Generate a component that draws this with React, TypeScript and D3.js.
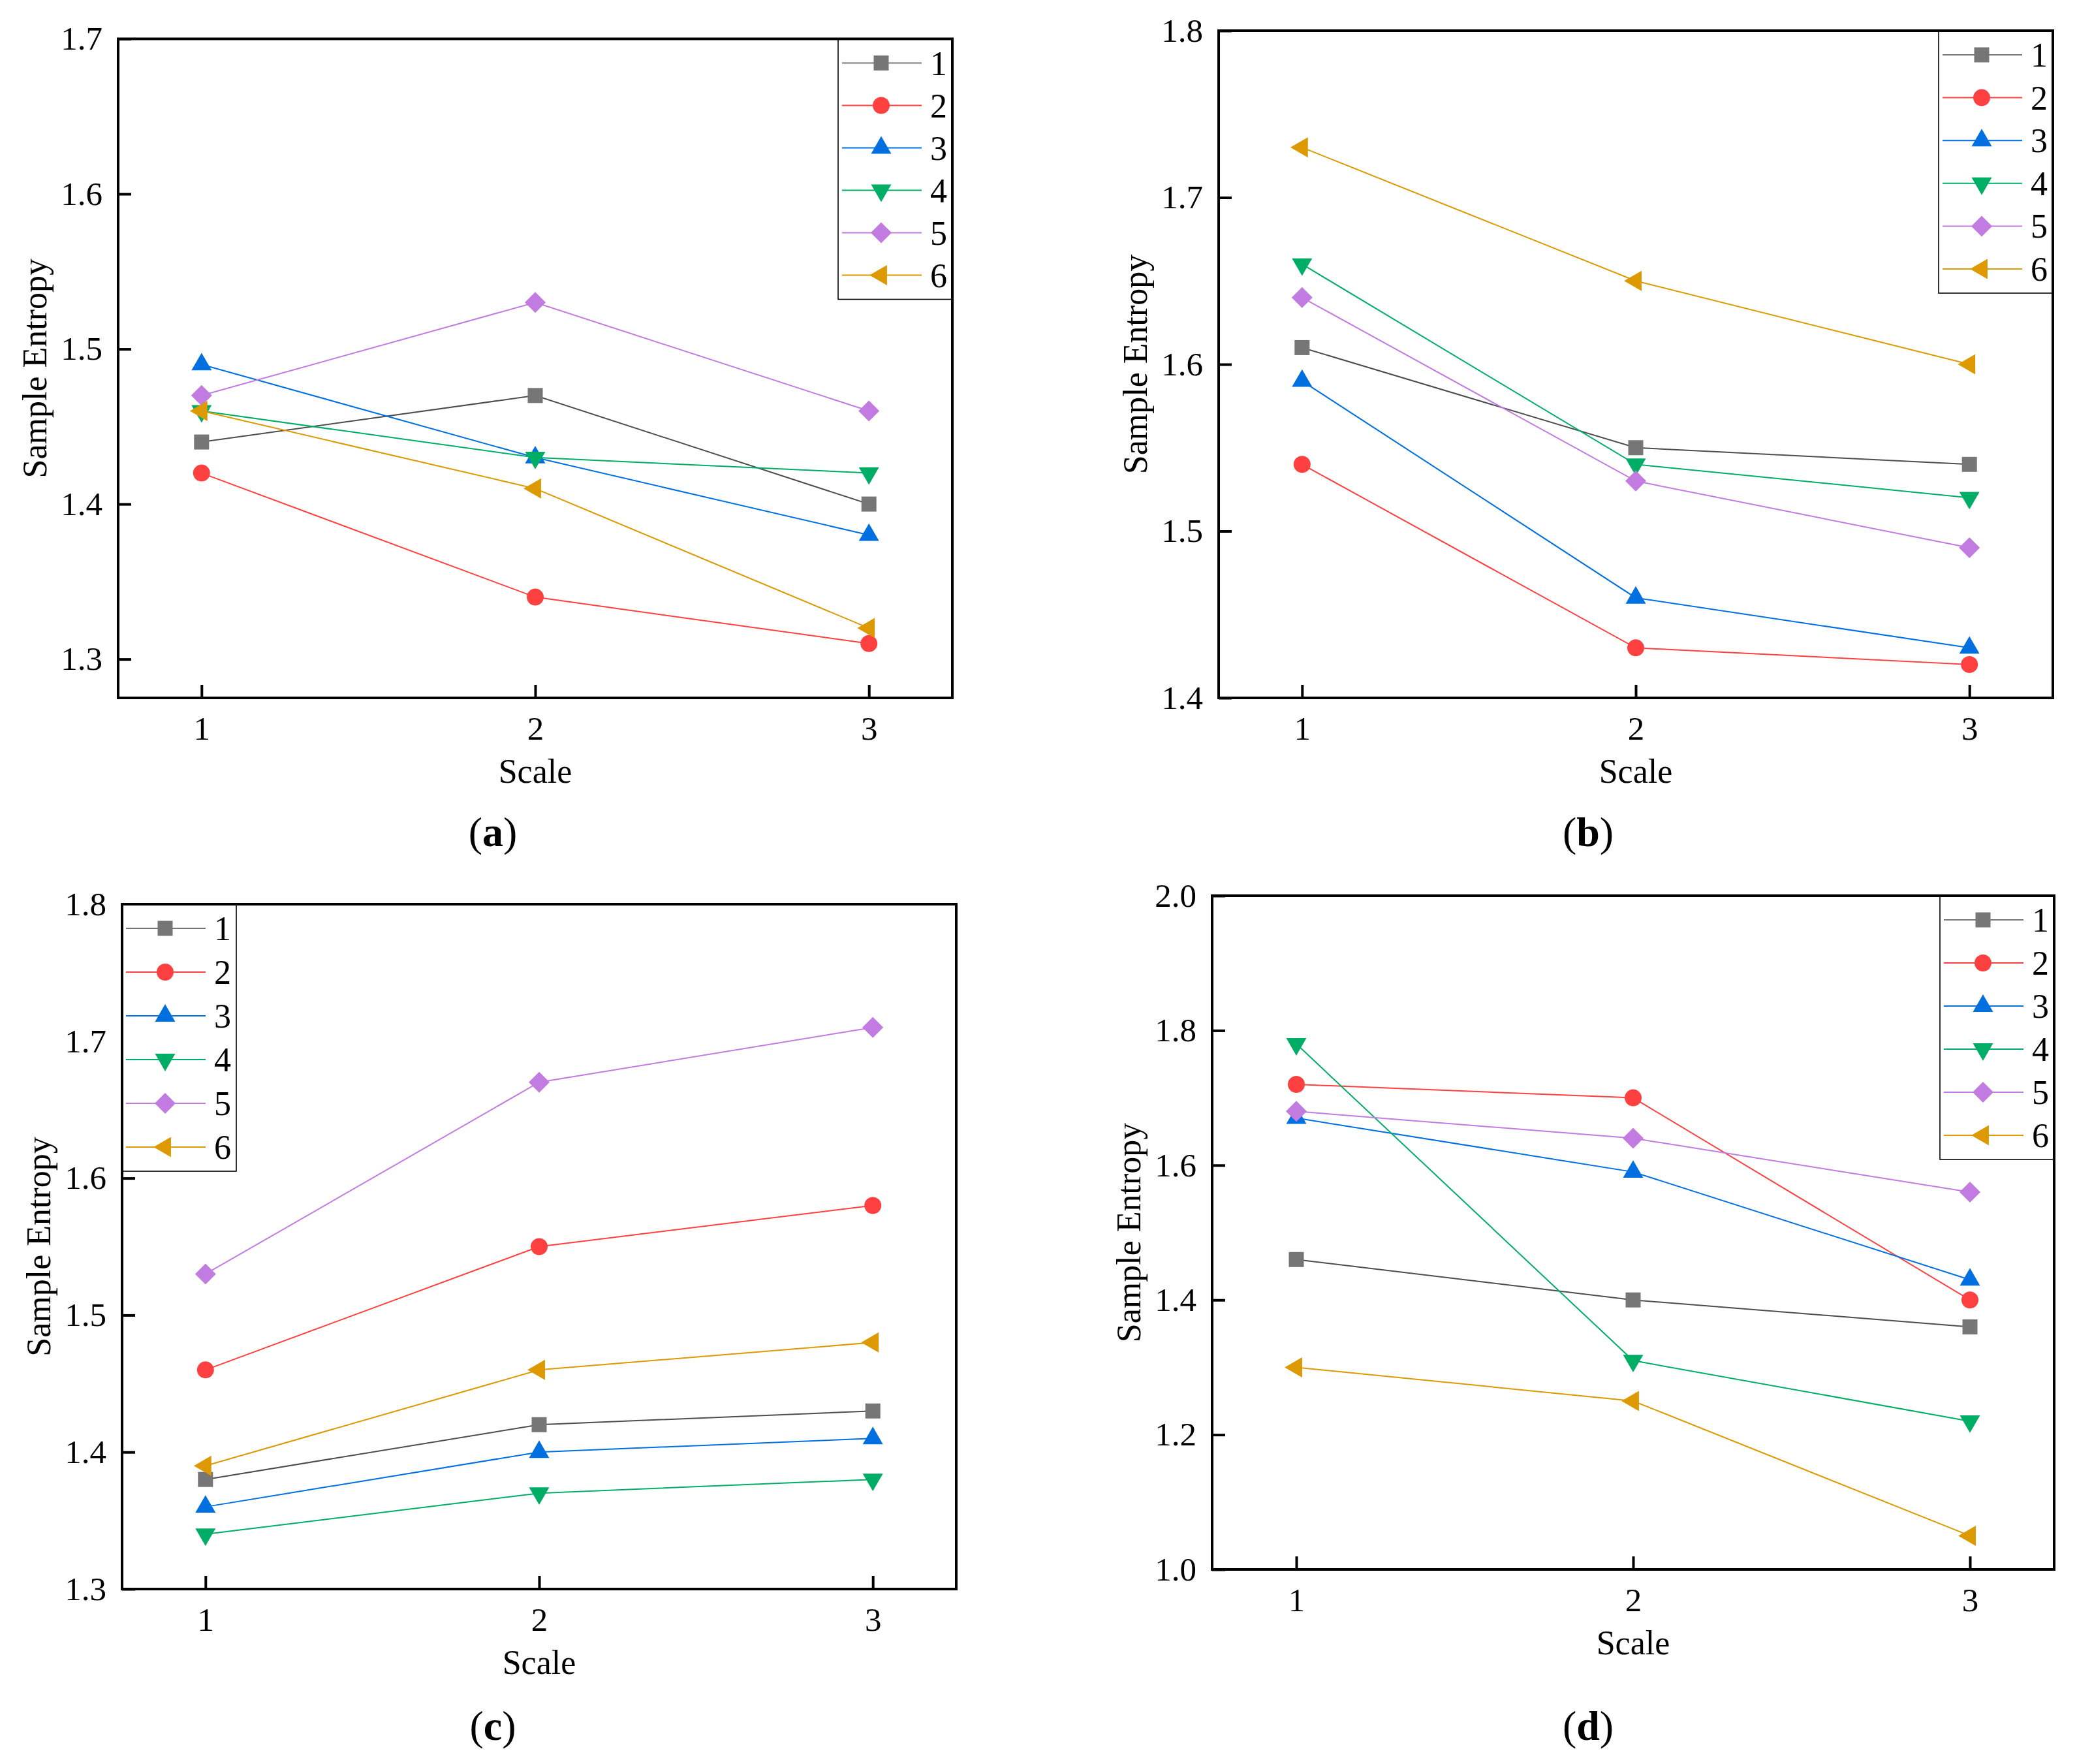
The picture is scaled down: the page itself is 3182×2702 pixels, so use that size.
import { useEffect, useRef } from 'react';
import * as d3 from 'd3';

// x axis: multiscale entropy scale factor
const scaleFactors = [1, 2, 3];
const seriesLabels = ['1', '2', '3', '4', '5', '6'];
const seriesColors = ['#767676', '#ff4040', '#0070e0', '#00ad66', '#c27be0', '#dc9a00'];
// the plotted line of series 1 is darker than its marker
const lineColors = ['#4d4d4d', '#ff4040', '#0070e0', '#00ad66', '#c27be0', '#dc9a00'];

// sample entropy, one row per series, columns = scale 1, 2, 3
const entropyA = [
  [1.44, 1.47, 1.40],
  [1.42, 1.34, 1.31],
  [1.49, 1.43, 1.38],
  [1.46, 1.43, 1.42],
  [1.47, 1.53, 1.46],
  [1.46, 1.41, 1.32],
];
const entropyB = [
  [1.61, 1.55, 1.54],
  [1.54, 1.43, 1.42],
  [1.59, 1.46, 1.43],
  [1.66, 1.54, 1.52],
  [1.64, 1.53, 1.49],
  [1.73, 1.65, 1.60],
];
const entropyC = [
  [1.38, 1.42, 1.43],
  [1.46, 1.55, 1.58],
  [1.36, 1.40, 1.41],
  [1.34, 1.37, 1.38],
  [1.53, 1.67, 1.71],
  [1.39, 1.46, 1.48],
];
const entropyD = [
  [1.46, 1.40, 1.36],
  [1.72, 1.70, 1.40],
  [1.67, 1.59, 1.43],
  [1.78, 1.31, 1.22],
  [1.68, 1.64, 1.56],
  [1.30, 1.25, 1.05],
];

const yTicksA = [1.3, 1.4, 1.5, 1.6, 1.7];
const yTicksB = [1.4, 1.5, 1.6, 1.7, 1.8];
const yTicksC = [1.3, 1.4, 1.5, 1.6, 1.7, 1.8];
const yTicksD = [1.0, 1.2, 1.4, 1.6, 1.8, 2.0];

const FONT = "'Times New Roman', 'Liberation Serif', serif";

type PanelSpec = {
  tag: string
  data: number[][]
  yDomain: [number, number]
  yTicks: number[]
  left: number
  right: number
  top: number
  bottom: number
  legendSide: 'left' | 'right'
  legendGap: number
  captionX: number
  captionY: number
}

const panels: PanelSpec[] = [
  { tag: 'a', data: entropyA, yDomain: [1.275, 1.7], yTicks: yTicksA, left: 181, right: 1459, top: 59.5, bottom: 1069, legendSide: 'right', legendGap: 65, captionX: 755, captionY: 1296 },
  { tag: 'b', data: entropyB, yDomain: [1.4, 1.8], yTicks: yTicksB, left: 1867, right: 3145, top: 47, bottom: 1069, legendSide: 'right', legendGap: 65.6, captionX: 2433, captionY: 1296 },
  { tag: 'c', data: entropyC, yDomain: [1.3, 1.8], yTicks: yTicksC, left: 187, right: 1465, top: 1385, bottom: 2434, legendSide: 'left', legendGap: 67, captionX: 755, captionY: 2665 },
  { tag: 'd', data: entropyD, yDomain: [1.0, 2.0], yTicks: yTicksD, left: 1857, right: 3147, top: 1372, bottom: 2404, legendSide: 'right', legendGap: 66, captionX: 2433, captionY: 2665 },
];

// Origin-like marker set: square, circle, up/down triangle, diamond, left triangle
const markers = [
  { type: d3.symbolSquare, size: 529, rotate: 0 },
  { type: d3.symbolCircle, size: 531, rotate: 0 },
  { type: d3.symbolTriangle, size: 416, rotate: 0 },
  { type: d3.symbolTriangle, size: 416, rotate: 180 },
  { type: d3.symbolSquare, size: 512, rotate: 45 },
  { type: d3.symbolTriangle, size: 416, rotate: -90 },
];

const drawPanel = (svg: d3.Selection<SVGSVGElement, undefined, null, undefined>, p: PanelSpec) => {
  const x = d3.scaleLinear().domain([0.75, 3.25]).range([p.left, p.right]);
  const y = d3.scaleLinear().domain(p.yDomain).range([p.bottom, p.top]);
  const g = svg.append('g');

  const line = d3.line<number>()
    .x((_, i) => x(scaleFactors[i]))
    .y((d) => y(d));

  // Series: line then markers, later series on top
  p.data.forEach((values, s) => {
    const sg = g.append('g');
    sg.append('path')
      .attr('d', line(values))
      .attr('fill', 'none')
      .attr('stroke', lineColors[s])
      .attr('stroke-width', 2);
    const sym = d3.symbol().type(markers[s].type).size(markers[s].size);
    sg.selectAll('path.mk')
      .data(values)
      .join('path')
      .attr('class', 'mk')
      .attr('d', sym()!)
      .attr('fill', seriesColors[s])
      .attr('transform', (d, i) => `translate(${x(scaleFactors[i])},${y(d)}) rotate(${markers[s].rotate})`);
  });

  // Axes with inward ticks
  g.append('g')
    .attr('transform', `translate(0,${p.bottom})`)
    .call(d3.axisBottom(x).tickValues(scaleFactors).tickFormat(d3.format('d'))
      .tickSizeInner(-20).tickSizeOuter(0).tickPadding(28))
    .attr('font-size', 51)
    .attr('font-family', FONT)
    .call((a) => a.select('.domain').remove())
    .call((a) => a.selectAll('line').attr('stroke-width', 4));

  g.append('g')
    .attr('transform', `translate(${p.left},0)`)
    .call(d3.axisLeft(y).tickValues(p.yTicks).tickFormat(d3.format('.1f'))
      .tickSizeInner(-20).tickSizeOuter(0).tickPadding(24))
    .attr('font-size', 51)
    .attr('font-family', FONT)
    .call((a) => a.select('.domain').remove())
    .call((a) => a.selectAll('line').attr('stroke-width', 4));

  // Legend box
  const lw = 175;
  const lx = p.legendSide === 'right' ? p.right - lw : p.left;
  const lh = 37 * 2 + p.legendGap * 5;
  const leg = g.append('g').attr('transform', `translate(${lx},${p.top})`);
  leg.append('rect')
    .attr('width', lw)
    .attr('height', lh)
    .attr('fill', '#fff')
    .attr('stroke', '#000')
    .attr('stroke-width', 1.6);
  seriesLabels.forEach((label, s) => {
    const ry = 37 + s * p.legendGap;
    leg.append('line')
      .attr('x1', 6).attr('x2', 128)
      .attr('y1', ry).attr('y2', ry)
      .attr('stroke', seriesColors[s])
      .attr('stroke-width', 2);
    leg.append('path')
      .attr('d', d3.symbol().type(markers[s].type).size(markers[s].size)()!)
      .attr('fill', seriesColors[s])
      .attr('transform', `translate(66,${ry}) rotate(${markers[s].rotate})`);
    leg.append('text')
      .attr('x', 141)
      .attr('y', ry + 18)
      .attr('font-size', 52)
      .attr('font-family', FONT)
      .text(label);
  });

  // Frame
  g.append('rect')
    .attr('x', p.left)
    .attr('y', p.top)
    .attr('width', p.right - p.left)
    .attr('height', p.bottom - p.top)
    .attr('fill', 'none')
    .attr('stroke', '#000')
    .attr('stroke-width', 4);

  // Axis titles
  g.append('text')
    .attr('x', (p.left + p.right) / 2)
    .attr('y', p.bottom + 130)
    .attr('text-anchor', 'middle')
    .attr('font-size', 52)
    .attr('font-family', FONT)
    .text('Scale');

  g.append('text')
    .attr('transform', `translate(${p.left - 110},${(p.top + p.bottom) / 2}) rotate(-90)`)
    .attr('text-anchor', 'middle')
    .attr('font-size', 52)
    .attr('font-family', FONT)
    .text('Sample Entropy');

  // Sub-figure caption
  const cap = g.append('text')
    .attr('x', p.captionX)
    .attr('y', p.captionY)
    .attr('text-anchor', 'middle')
    .attr('font-size', 64)
    .attr('font-family', FONT);
  cap.append('tspan').text('(');
  cap.append('tspan').attr('font-weight', 'bold').text(p.tag);
  cap.append('tspan').text(')');
};

export default function App() {
  const ref = useRef<HTMLDivElement>(null);
  useEffect(() => {
    const width = 3182;
    const height = 2702;

    const svg = d3.create('svg')
      .attr('width', width)
      .attr('height', height)
      .attr('viewBox', [0, 0, width, height])
      .attr('style', 'position: absolute; left: 0; top: 0; background: #fff;');

    panels.forEach((p) => drawPanel(svg, p));

    const node = svg.node()!;
    ref.current?.append(node);
    return () => {
      node.remove();
    };
  });
  return <div ref={ref}></div>;
}
